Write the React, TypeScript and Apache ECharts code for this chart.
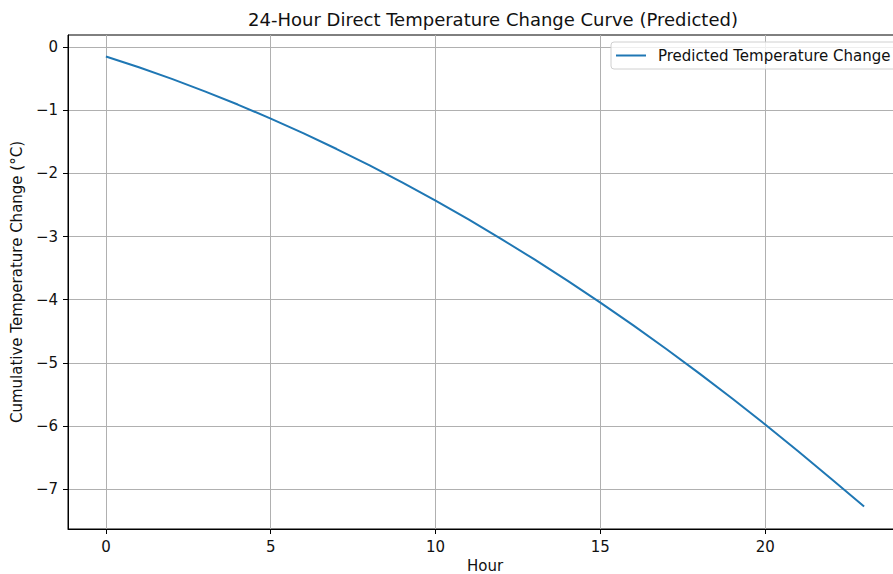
import React, { useEffect, useRef } from "react";
import * as echarts from "echarts";

const hours = [0, 1, 2, 3, 4, 5, 6, 7, 8, 9, 10, 11, 12, 13, 14, 15, 16, 17, 18, 19, 20, 21, 22, 23];
const tempChange = [
  -0.150, -0.321, -0.505, -0.702, -0.911, -1.133, -1.368, -1.615, -1.875, -2.147, -2.432, -2.730,
  -3.040, -3.363, -3.698, -4.046, -4.407, -4.780, -5.166, -5.564, -5.975, -6.399, -6.835, -7.275,
];
const xTicks = [0, 5, 10, 15, 20];
const yTicks = [0, -1, -2, -3, -4, -5, -6, -7];
const seriesName = "Predicted Temperature Change";
const titleText = "24-Hour Direct Temperature Change Curve (Predicted)";

const FONT = "DejaVu Sans";
const fmt = (v: number) => String(v).replace("-", "\u2212");

export default function App() {
  const ref = useRef<HTMLDivElement>(null);
  useEffect(() => {
    document.body.style.margin = "0";
    const chart = echarts.init(ref.current!, null, { renderer: "svg" });
    chart.setOption({
      animation: false,
      backgroundColor: "#ffffff",
      textStyle: { fontFamily: FONT },
      title: {
        text: titleText,
        left: 488,
        top: 5,
        textAlign: "center",
        textStyle: { fontFamily: FONT, fontSize: 18, fontWeight: "normal", color: "#111" },
      },
      legend: {
        left: 611,
        top: 42,
        orient: "vertical",
        data: [{ name: seriesName, icon: "rect" }],
        itemWidth: 30,
        itemHeight: 2,
        itemGap: 5,
        padding: [6, 8, 6, 5],
        backgroundColor: "rgba(255,255,255,0.8)",
        borderColor: "#d0d0d0",
        borderWidth: 1,
        borderRadius: 3,
        textStyle: { fontFamily: FONT, fontSize: 15, color: "#111", padding: [0, 0, 0, 7] },
      },
      grid: {
        left: 68,
        top: 35,
        width: 834,
        height: 494,
        show: true,
        borderColor: "#000",
        borderWidth: 1,
        containLabel: false,
        outerBoundsMode: "none",
      },
      xAxis: {
        type: "value",
        min: -1.15,
        max: 24.15,
        name: "Hour",
        nameLocation: "middle",
        nameGap: 28,
        nameTextStyle: { fontFamily: FONT, fontSize: 15, color: "#111" },
        axisLine: { show: true, onZero: false, lineStyle: { color: "#000", width: 1 } },
        axisTick: { show: true, length: 5, customValues: xTicks, lineStyle: { color: "#000", width: 1 } },
        axisLabel: {
          customValues: xTicks,
          margin: 10,
          fontFamily: FONT,
          fontSize: 15,
          color: "#111",
          formatter: (v: number) => fmt(v),
        },
        splitLine: { show: true, lineStyle: { color: "#b0b0b0", width: 1 } },
      },
      yAxis: {
        type: "value",
        min: -7.63,
        max: 0.19,
        name: "Cumulative Temperature Change (°C)",
        nameLocation: "middle",
        nameGap: 41,
        nameRotate: 90,
        nameTextStyle: { fontFamily: FONT, fontSize: 15, color: "#111" },
        axisLine: { show: true, onZero: false, lineStyle: { color: "#000", width: 1 } },
        axisTick: { show: true, length: 5, customValues: yTicks, lineStyle: { color: "#000", width: 1 } },
        axisLabel: {
          customValues: yTicks,
          margin: 10,
          fontFamily: FONT,
          fontSize: 15,
          color: "#111",
          formatter: (v: number) => fmt(v),
        },
        splitLine: { show: true, lineStyle: { color: "#b0b0b0", width: 1 } },
      },
      series: [
        {
          name: seriesName,
          type: "line",
          data: hours.map((h, i) => [h, tempChange[i]]),
          showSymbol: false,
          smooth: false,
          itemStyle: { color: "#1f77b4" },
          lineStyle: { color: "#1f77b4", width: 2 },
        },
      ],
    });
    return () => chart.dispose();
  }, []);
  return <div ref={ref} style={{ width: 893, height: 574, position: "absolute", left: 0, top: 0 }} />;
}
